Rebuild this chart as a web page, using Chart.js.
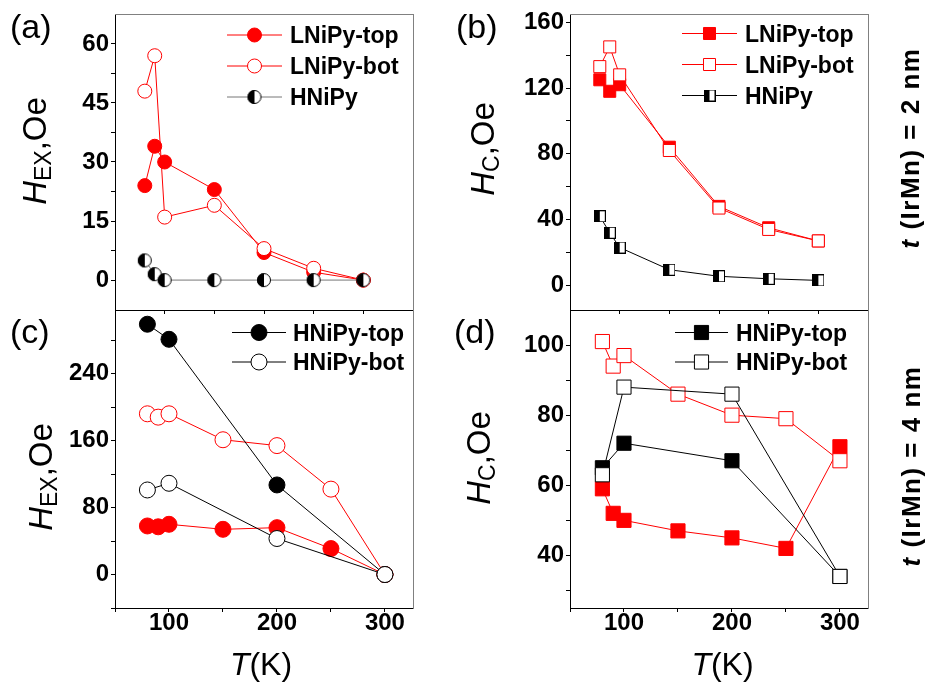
<!DOCTYPE html>
<html>
<head>
<meta charset="utf-8">
<script src="https://cdn.jsdelivr.net/npm/chart.js@4.4.0/dist/chart.umd.min.js"></script>
<style>
body { margin: 0; background: #fff; }
#wrap { position: relative; width: 927px; height: 687px; overflow: hidden; font-family: "Liberation Sans", Arial, sans-serif; color: #000; }
#wrap canvas { position: absolute; left: 0; top: 0; }
.lbl { position: absolute; font-size: 34px; line-height: 1; white-space: nowrap; }
.rot { position: absolute; white-space: nowrap; line-height: 1; transform: translate(-50%, -50%) rotate(-90deg); }
.ytitle { font-size: 33px; }
.sub { font-size: 23px; position: relative; top: 5px; }
.side { font-size: 26px; font-weight: bold; letter-spacing: 1.5px; }
.xtitle { position: absolute; font-size: 32px; line-height: 1; white-space: nowrap; transform: translate(-50%, -50%); }
</style>
</head>
<body>
<div id="wrap">
  <canvas id="pa" width="927" height="687"></canvas>
  <canvas id="pb" width="927" height="687"></canvas>
  <canvas id="pc" width="927" height="687"></canvas>
  <canvas id="pd" width="927" height="687"></canvas>

  <div class="lbl" style="left:10px; top:9px;">(a)</div>
  <div class="lbl" style="left:456px; top:9px;">(b)</div>
  <div class="lbl" style="left:10px; top:314px;">(c)</div>
  <div class="lbl" style="left:454px; top:314px;">(d)</div>

  <div class="rot ytitle" style="left:33.6px; top:150.5px;"><i>H</i><span class="sub">EX</span>,Oe</div>
  <div class="rot ytitle" style="left:482px; top:149px;"><i>H</i><span class="sub">C</span>,Oe</div>
  <div class="rot ytitle" style="left:40.3px; top:476.7px;"><i>H</i><span class="sub">EX</span>,Oe</div>
  <div class="rot ytitle" style="left:478px; top:458px;"><i>H</i><span class="sub">C</span>,Oe</div>

  <div class="rot side" style="left:909.5px; top:148px;"><i>t</i> (IrMn) = 2 nm</div>
  <div class="rot side" style="left:910.5px; top:466px;"><i>t</i> (IrMn) = 4 nm</div>

  <div class="xtitle" style="left:261px; top:663.7px;"><i>T</i>(K)</div>
  <div class="xtitle" style="left:722.5px; top:663.7px;"><i>T</i>(K)</div>
</div>
<script>
// temperatures (K)
const tempTop = [80, 90, 100, 150, 200, 250, 300];
const tempBotRed = [80, 90, 100, 150, 200, 250, 300];
const tempBotBlack = [80, 100, 200, 300];

// (a) H_EX, t(IrMn) = 2 nm
const hexLNiPyTop = [24, 34, 30, 23, 7, 2, 0];
const hexLNiPyBot = [48, 57, 16, 19, 8, 3, 0];
const hexHNiPy = [5, 1.5, 0, 0, 0, 0, 0];

// (b) H_C, t(IrMn) = 2 nm
const hcLNiPyTop = [125, 118, 122, 84, 48, 35, 27];
const hcLNiPyBot = [133, 145, 128, 82, 47, 34, 27];
const hcHNiPy = [42, 32, 23, 9.5, 5.5, 4, 3];

// (c) H_EX, t(IrMn) = 4 nm
const hex4RedTop = [58, 57, 60, 54, 56, 31, 0];
const hex4RedBot = [192, 188, 192, 161, 154, 102, 0];
const hex4HNiPyTop = [299, 281, 107, 0];
const hex4HNiPyBot = [101, 109, 43, 0];

// (d) H_C, t(IrMn) = 4 nm
const hc4RedTop = [59, 52, 50, 47, 45, 42, 71];
const hc4RedBot = [101, 94, 97, 86, 80, 79, 67];
const hc4HNiPyTop = [65, 72, 67, 34];
const hc4HNiPyBot = [63, 88, 86, 34];

// axis ticks
const xTicksTop = [50, 100, 150, 200, 250, 300, 350];
const xTicksBot = [50, 100, 150, 200, 250, 300];
const xLabelsBot = [100, 200, 300];
const yTicksA = [0, 7.5, 15, 22.5, 30, 37.5, 45, 52.5, 60];
const yLabelsA = [0, 15, 30, 45, 60];
const yTicksB = [0, 20, 40, 60, 80, 100, 120, 140, 160];
const yLabelsB = [0, 40, 80, 120, 160];
const yTicksC = [-40, 0, 40, 80, 120, 160, 200, 240, 280];
const yLabelsC = [0, 80, 160, 240];
const yTicksD = [30, 40, 50, 60, 70, 80, 90, 100];
const yLabelsD = [40, 60, 80, 100];

const RED = '#ff0000';
const FONT = '"Liberation Sans", Arial, sans-serif';
const Y_W = 110, X_H = 60;

function pts(xs, ys) {
    return xs.map((x, i) => ({ x: x, y: ys[i] }));
}

function halfCircle(r) {
    let c = document.createElement('canvas');
    let s = Math.ceil(2 * r + 2);
    c.width = s; c.height = s;
    let g = c.getContext('2d');
    let m = s / 2;
    g.fillStyle = '#fff';
    g.beginPath(); g.arc(m, m, r, 0, Math.PI * 2); g.fill();
    g.fillStyle = '#000';
    g.beginPath(); g.arc(m, m, r, Math.PI / 2, Math.PI * 1.5); g.closePath(); g.fill();
    g.strokeStyle = '#000'; g.lineWidth = 1;
    g.beginPath(); g.arc(m, m, r - 0.5, 0, Math.PI * 2); g.stroke();
    return c;
}

function halfSquare(side) {
    let c = document.createElement('canvas');
    c.width = side; c.height = side;
    let g = c.getContext('2d');
    g.fillStyle = '#fff'; g.fillRect(0, 0, side, side);
    g.fillStyle = '#000'; g.fillRect(0, 0, side / 2, side);
    g.strokeStyle = '#000'; g.lineWidth = 1;
    g.strokeRect(0.5, 0.5, side - 1, side - 1);
    return c;
}

function series(label, xs, ys, opt) {
    return Object.assign({
        label: label,
        data: pts(xs, ys),
        borderWidth: 1,
        tension: 0,
        pointBorderWidth: 1,
        pointHoverRadius: 0
    }, opt);
}

// legend drawn inside the plot area
const insideLegend = {
    id: 'insideLegend',
    afterDatasetsDraw(chart, args, opts) {
        let ctx = chart.ctx;
        ctx.save();
        opts.items.forEach((idx, i) => {
            let ds = chart.data.datasets[idx];
            let y = opts.y + i * opts.gap;
            ctx.strokeStyle = ds.borderColor;
            ctx.lineWidth = ds.borderWidth;
            ctx.beginPath();
            ctx.moveTo(opts.x, y);
            ctx.lineTo(opts.x + opts.lineLen, y);
            ctx.stroke();
            ctx.fillStyle = ds.pointBackgroundColor;
            ctx.strokeStyle = ds.pointBorderColor;
            ctx.lineWidth = 1;
            Chart.helpers.drawPoint(ctx, { pointStyle: ds.pointStyle, radius: ds.pointRadius, borderWidth: 1, rotation: 0 },
                opts.x + opts.lineLen / 2, y);
            ctx.fillStyle = '#000';
            ctx.font = 'bold 23px ' + FONT;
            ctx.textBaseline = 'alphabetic';
            ctx.textAlign = 'left';
            ctx.fillText(ds.label, opts.x + opts.textOff, y + 8);
        });
        ctx.restore();
    }
};

function makePanel(id, cfg) {
    let tickFont = { family: FONT, size: 24, weight: 'bold', lineHeight: 1 };
    return new Chart(document.getElementById(id), {
        type: 'line',
        data: { datasets: cfg.datasets },
        options: {
            responsive: false,
            animation: false,
            events: [],
            layout: {
                padding: {
                    left: cfg.area.left - Y_W,
                    top: cfg.area.top,
                    right: 927 - cfg.area.right,
                    bottom: 687 - cfg.area.bottom - X_H
                }
            },
            plugins: {
                legend: { display: false },
                tooltip: { enabled: false },
                insideLegend: cfg.legend
            },
            scales: {
                x: {
                    type: 'linear',
                    position: 'bottom',
                    min: cfg.xMin,
                    max: cfg.xMax,
                    afterBuildTicks: s => { s.ticks = cfg.xTicks.map(v => ({ value: v })); },
                    afterFit: s => { s.height = X_H; },
                    grid: { drawOnChartArea: false, tickLength: 4, color: '#000' },
                    border: { color: '#000', width: 1 },
                    ticks: {
                        display: cfg.showX,
                        autoSkip: false,
                        maxRotation: 0,
                        padding: -1,
                        color: '#000',
                        font: tickFont,
                        callback: v => (cfg.xLabels.includes(v) ? String(v) : '')
                    }
                },
                y: {
                    type: 'linear',
                    position: 'left',
                    min: cfg.yMin,
                    max: cfg.yMax,
                    afterBuildTicks: s => { s.ticks = cfg.yTicks.map(v => ({ value: v })); },
                    afterFit: s => { s.width = Y_W; },
                    grid: { drawOnChartArea: false, tickLength: 4, color: '#000' },
                    border: { color: '#000', width: 1 },
                    ticks: {
                        autoSkip: false,
                        padding: 2,
                        color: '#000',
                        font: tickFont,
                        callback: v => (cfg.yLabels.includes(v) ? String(v) : '')
                    }
                },
                xTop: {
                    type: 'linear',
                    position: 'top',
                    afterFit: s => { s.height = 0; },
                    grid: { display: false, drawTicks: false },
                    ticks: { display: false },
                    border: { color: cfg.topColor, width: 1 }
                },
                yRight: {
                    type: 'linear',
                    position: 'right',
                    afterFit: s => { s.width = 0; },
                    grid: { display: false, drawTicks: false },
                    ticks: { display: false },
                    border: { color: '#808080', width: 1 }
                }
            }
        },
        plugins: [insideLegend]
    });
}

function initializeCharts() {
    let hc7 = halfCircle(7);
    let hs12 = halfSquare(12);

    makePanel('pa', {
        area: { left: 115, top: 13, right: 413, bottom: 310 },
        xMin: 50, xMax: 350, xTicks: xTicksTop, xLabels: [], showX: false,
        yMin: -7.6, yMax: 67.6, yTicks: yTicksA, yLabels: yLabelsA,
        topColor: '#808080',
        legend: { items: [0, 1, 2], x: 227, y: 35, gap: 31, lineLen: 55, textOff: 63 },
        datasets: [
            series('LNiPy-top', tempTop, hexLNiPyTop, { borderColor: RED, pointStyle: 'circle', pointRadius: 7, pointBackgroundColor: RED, pointBorderColor: RED, order: 3 }),
            series('LNiPy-bot', tempTop, hexLNiPyBot, { borderColor: RED, pointStyle: 'circle', pointRadius: 7, pointBackgroundColor: '#fff', pointBorderColor: RED, order: 2 }),
            series('HNiPy', tempTop, hexHNiPy, { borderColor: '#777', pointStyle: hc7, pointRadius: 7, pointBackgroundColor: '#000', pointBorderColor: '#000', order: 1 })
        ]
    });

    makePanel('pb', {
        area: { left: 570, top: 13, right: 868, bottom: 310 },
        xMin: 50, xMax: 350, xTicks: xTicksTop, xLabels: [], showX: false,
        yMin: -15, yMax: 165, yTicks: yTicksB, yLabels: yLabelsB,
        topColor: '#808080',
        legend: { items: [0, 1, 2], x: 682, y: 33.5, gap: 31, lineLen: 55, textOff: 63 },
        datasets: [
            series('LNiPy-top', tempTop, hcLNiPyTop, { borderColor: RED, pointStyle: 'rect', pointRadius: 8.5, pointBackgroundColor: RED, pointBorderColor: RED, order: 3 }),
            series('LNiPy-bot', tempTop, hcLNiPyBot, { borderColor: RED, pointStyle: 'rect', pointRadius: 8.5, pointBackgroundColor: '#fff', pointBorderColor: RED, order: 2 }),
            series('HNiPy', tempTop, hcHNiPy, { borderColor: '#000', pointStyle: hs12, pointRadius: 8.5, pointBackgroundColor: '#000', pointBorderColor: '#000', order: 1 })
        ]
    });

    makePanel('pc', {
        area: { left: 115, top: 310, right: 413, bottom: 608 },
        xMin: 50, xMax: 326, xTicks: xTicksBot, xLabels: xLabelsBot, showX: true,
        yMin: -40, yMax: 316, yTicks: yTicksC, yLabels: yLabelsC,
        topColor: '#000',
        legend: { items: [2, 3], x: 232, y: 332.5, gap: 29.5, lineLen: 54, textOff: 61 },
        datasets: [
            series('LNiPy-top', tempBotRed, hex4RedTop, { borderColor: RED, pointStyle: 'circle', pointRadius: 8, pointBackgroundColor: RED, pointBorderColor: RED, order: 4 }),
            series('LNiPy-bot', tempBotRed, hex4RedBot, { borderColor: RED, pointStyle: 'circle', pointRadius: 8, pointBackgroundColor: '#fff', pointBorderColor: RED, order: 3 }),
            series('HNiPy-top', tempBotBlack, hex4HNiPyTop, { borderColor: '#000', pointStyle: 'circle', pointRadius: 8, pointBackgroundColor: '#000', pointBorderColor: '#000', order: 2 }),
            series('HNiPy-bot', tempBotBlack, hex4HNiPyBot, { borderColor: '#000', pointStyle: 'circle', pointRadius: 8, pointBackgroundColor: '#fff', pointBorderColor: '#000', order: 1 })
        ]
    });

    makePanel('pd', {
        area: { left: 570, top: 310, right: 868, bottom: 608 },
        xMin: 50, xMax: 326, xTicks: xTicksBot, xLabels: xLabelsBot, showX: true,
        yMin: 25, yMax: 110, yTicks: yTicksD, yLabels: yLabelsD,
        topColor: '#000',
        legend: { items: [2, 3], x: 675, y: 332.5, gap: 29.5, lineLen: 53, textOff: 61 },
        datasets: [
            series('LNiPy-top', tempBotRed, hc4RedTop, { borderColor: RED, pointStyle: 'rect', pointRadius: 10, pointBackgroundColor: RED, pointBorderColor: RED, order: 4 }),
            series('LNiPy-bot', tempBotRed, hc4RedBot, { borderColor: RED, pointStyle: 'rect', pointRadius: 10, pointBackgroundColor: '#fff', pointBorderColor: RED, order: 3 }),
            series('HNiPy-top', tempBotBlack, hc4HNiPyTop, { borderColor: '#000', pointStyle: 'rect', pointRadius: 10, pointBackgroundColor: '#000', pointBorderColor: '#000', order: 2 }),
            series('HNiPy-bot', tempBotBlack, hc4HNiPyBot, { borderColor: '#000', pointStyle: 'rect', pointRadius: 10, pointBackgroundColor: '#fff', pointBorderColor: '#000', order: 1 })
        ]
    });
}

window.onload = initializeCharts;
</script>
</body>
</html>
